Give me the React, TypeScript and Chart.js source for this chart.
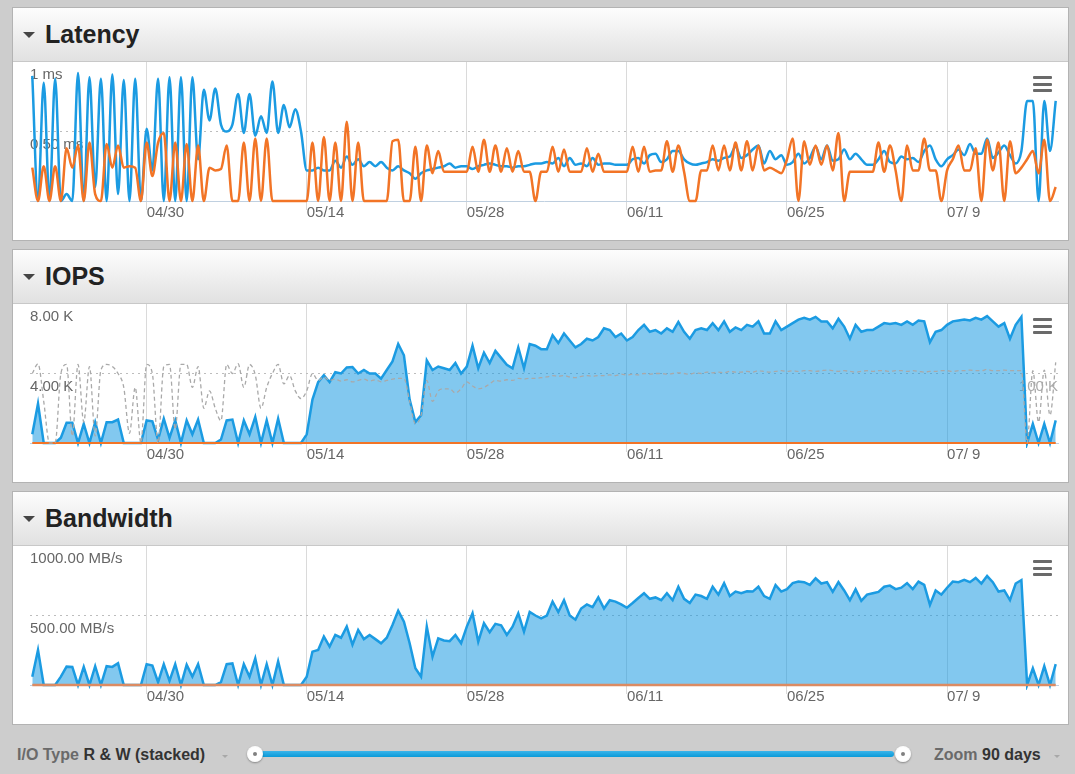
import React, { useEffect, useRef } from 'react';
import { Chart, registerables } from 'chart.js';

Chart.register(...registerables);

// x values are days relative to 04/30; one sample every 12 hours from 04/20
const START_DAY = -10;
const STEP_DAYS = 0.5;
const X_MIN = -10.2;
const X_MAX = 79.7;
const TICK_DAYS = [0, 14, 28, 42, 56, 70];
const TICK_LABELS = ['04/30', '05/14', '05/28', '06/11', '06/25', '07/ 9'];

// Latency (ms)
const LAT_READ_MS = [
  0.90, 0.00, 0.85, 0.00, 0.88, 0.00, 0.05, 0.00, 0.92, 0.00,
  0.89, 0.10, 0.88, 0.00, 0.91, 0.05, 0.87, 0.00, 0.88, 0.00,
  0.52, 0.22, 0.88, 0.00, 0.89, 0.00, 0.89, 0.00, 0.89, 0.30,
  0.80, 0.58, 0.81, 0.55, 0.50, 0.55, 0.77, 0.49, 0.77, 0.47,
  0.61, 0.49, 0.86, 0.49, 0.69, 0.53, 0.66, 0.50, 0.22, 0.22,
  0.24, 0.22, 0.22, 0.29, 0.24, 0.32, 0.26, 0.30, 0.25, 0.28,
  0.25, 0.28, 0.24, 0.22, 0.25, 0.22, 0.20, 0.16, 0.20, 0.22,
  0.23, 0.24, 0.25, 0.27, 0.24, 0.25, 0.25, 0.23, 0.25, 0.26,
  0.27, 0.26, 0.25, 0.25, 0.24, 0.25, 0.25, 0.26, 0.27, 0.27,
  0.28, 0.27, 0.31, 0.25, 0.31, 0.26, 0.27, 0.25, 0.31, 0.26,
  0.27, 0.27, 0.26, 0.26, 0.26, 0.30, 0.31, 0.27, 0.33, 0.34,
  0.28, 0.30, 0.36, 0.36, 0.30, 0.27, 0.26, 0.27, 0.28, 0.30,
  0.29, 0.31, 0.32, 0.39, 0.31, 0.33, 0.37, 0.40, 0.27, 0.36,
  0.30, 0.33, 0.26, 0.28, 0.34, 0.27, 0.31, 0.39, 0.30, 0.40,
  0.29, 0.30, 0.37, 0.30, 0.34, 0.30, 0.26, 0.26, 0.30, 0.36,
  0.28, 0.27, 0.32, 0.30, 0.31, 0.28, 0.36, 0.40, 0.30, 0.25,
  0.30, 0.33, 0.37, 0.33, 0.41, 0.34, 0.34, 0.45, 0.31, 0.35,
  0.40, 0.33, 0.27, 0.36, 0.72, 0.72, 0.00, 0.72, 0.36, 0.72,
];
const LAT_WRITE_MS = [
  0.24, 0.00, 0.25, 0.00, 0.25, 0.00, 0.38, 0.24, 0.40, 0.00,
  0.42, 0.05, 0.00, 0.41, 0.24, 0.40, 0.24, 0.25, 0.24, 0.00,
  0.42, 0.18, 0.42, 0.49, 0.00, 0.42, 0.00, 0.41, 0.00, 0.40,
  0.00, 0.24, 0.22, 0.23, 0.40, 0.00, 0.00, 0.42, 0.00, 0.45,
  0.00, 0.45, 0.00, 0.00, 0.00, 0.00, 0.00, 0.00, 0.00, 0.42,
  0.00, 0.46, 0.00, 0.42, 0.00, 0.57, 0.00, 0.42, 0.00, 0.00,
  0.00, 0.00, 0.00, 0.43, 0.44, 0.00, 0.00, 0.39, 0.00, 0.40,
  0.20, 0.36, 0.21, 0.21, 0.21, 0.21, 0.21, 0.39, 0.21, 0.44,
  0.21, 0.40, 0.21, 0.38, 0.21, 0.36, 0.21, 0.21, 0.00, 0.21,
  0.21, 0.39, 0.21, 0.37, 0.21, 0.21, 0.21, 0.38, 0.21, 0.34,
  0.21, 0.21, 0.21, 0.21, 0.21, 0.39, 0.21, 0.39, 0.21, 0.22,
  0.22, 0.43, 0.21, 0.40, 0.21, 0.00, 0.00, 0.22, 0.22, 0.40,
  0.22, 0.40, 0.22, 0.42, 0.22, 0.43, 0.22, 0.40, 0.22, 0.24,
  0.22, 0.20, 0.30, 0.45, 0.00, 0.43, 0.26, 0.40, 0.26, 0.40,
  0.22, 0.49, 0.00, 0.21, 0.21, 0.21, 0.21, 0.21, 0.42, 0.21,
  0.40, 0.22, 0.00, 0.40, 0.22, 0.22, 0.45, 0.22, 0.22, 0.00,
  0.22, 0.30, 0.40, 0.22, 0.22, 0.38, 0.00, 0.44, 0.22, 0.42,
  0.00, 0.43, 0.20, 0.24, 0.30, 0.36, 0.20, 0.44, 0.00, 0.10,
];

// IOPS (K)
const IOPS_READ_K = [
  0.5, 2.26, 0, 0, 0, 0.3, 1.16, 1.16, 0, 1.1,
  0, 1.2, 0, 1.2, 1.2, 1.35, 0, 0, 0, 0,
  1.3, 1.25, 0.2, 1.4, 0.3, 1.3, 0, 1.3, 0.5, 1.35,
  0, 0, 0, 0.2, 1.3, 1.35, 0, 1.3, 0.5, 1.5,
  0, 1.3, 0, 1.4, 0, 0, 0, 0, 0.5, 2.5,
  3.5, 3.9, 3.5, 4.07, 4.0, 4.35, 4.37, 4.0, 4.2, 4.0,
  4.0, 3.7, 4.2, 4.7, 5.7, 5.05, 2.5, 1.2, 1.6, 4.75,
  4.2, 4.4, 4.3, 4.2, 4.6, 4.0, 4.4, 5.6, 4.3, 5.2,
  4.6, 5.3, 4.9, 4.5, 4.3, 5.5, 4.3, 5.7, 5.6, 5.4,
  5.4, 6.2, 5.75, 6.3, 5.9, 5.5, 5.7, 6.0, 5.9, 6.1,
  6.6, 6.5, 6.1, 6.3, 5.9, 6.1, 6.5, 6.8, 6.4, 6.5,
  6.3, 6.6, 6.4, 6.97, 6.4, 6.0, 6.5, 6.6, 6.5, 6.9,
  6.5, 7.0, 6.4, 6.65, 6.5, 6.8, 6.7, 7.0, 6.3, 6.3,
  7.0, 6.5, 6.7, 6.9, 7.1, 7.2, 7.1, 7.26, 7.0, 7.0,
  6.6, 7.15, 6.7, 6.0, 6.8, 6.4, 6.5, 6.5, 6.7, 6.9,
  6.85, 6.9, 6.8, 7.0, 6.8, 7.05, 7.0, 5.8, 6.4, 6.5,
  6.8, 7.0, 7.05, 7.1, 7.05, 7.2, 7.1, 7.3, 7.0, 6.7,
  6.9, 6.0, 6.8, 7.26, 0, 1.1, 0, 1.1, 0, 1.3,
];
// secondary (right) axis, K
const IOPS_REF_K = [
  100, 114, 60, 0, 0, 100, 113, 10, 113, 30,
  110, 10, 105, 113, 110, 100, 80, 14, 80, 0,
  113, 100, 0, 110, 113, 20, 113, 113, 80, 110,
  50, 75, 50, 32, 113, 100, 114, 80, 113, 98,
  50, 80, 100, 113, 85, 97, 75, 64, 75, 100,
  90, 95, 90, 92, 89, 91, 88, 90, 92, 89,
  91, 88, 90, 92, 93, 93, 60, 28, 40, 90,
  60, 75, 78, 78, 72, 78, 88, 82, 78, 80,
  85, 90, 89, 91, 90, 93, 92, 93, 93, 94,
  95, 97, 96, 97, 95, 94, 96, 97, 96, 97,
  97, 98, 97, 99, 98, 99, 98, 100, 99, 100,
  100, 99, 100, 101, 100, 99, 101, 100, 102, 101,
  102, 101, 103, 102, 102, 103, 102, 104, 103, 102,
  103, 104, 103, 104, 103, 104, 104, 103, 104, 105,
  104, 103, 104, 103, 102, 103, 104, 103, 104, 104,
  103, 104, 104, 103, 104, 103, 102, 103, 103, 104,
  104, 103, 104, 104, 105, 104, 104, 106, 104, 104,
  105, 104, 104, 104, 0, 104, 30, 105, 40, 116,
];
const WRITE_DAYS = [-10, 79.5];
const IOPS_WRITE_K = [0, 0];

// Bandwidth (MB/s)
const BW_READ_MBS = [
  60, 252, 0, 0, 0, 60, 132, 130, 0, 130,
  0, 135, 0, 135, 130, 156, 0, 0, 0, 0,
  150, 140, 20, 150, 30, 150, 0, 145, 60, 150,
  0, 0, 0, 20, 150, 155, 0, 150, 60, 192,
  0, 150, 0, 170, 0, 0, 0, 0, 60, 240,
  252, 348, 276, 360, 340, 420, 290, 396, 330, 360,
  330, 300, 340, 432, 535, 456, 300, 120, 60, 420,
  204, 336, 320, 315, 360, 300, 420, 516, 312, 444,
  380, 440, 430, 360, 420, 516, 384, 525, 500, 480,
  500, 600, 525, 610, 500, 470, 550, 580, 560, 630,
  550, 610, 600, 580, 556, 590, 626, 660, 620, 630,
  610, 660, 610, 707, 620, 590, 650, 640, 620, 707,
  650, 733, 640, 672, 660, 674, 672, 707, 640, 620,
  719, 672, 690, 733, 745, 740, 720, 767, 730, 740,
  670, 740, 680, 610, 688, 605, 650, 660, 670, 707,
  715, 690, 700, 733, 690, 744, 720, 576, 680, 650,
  700, 744, 740, 757, 740, 770, 730, 784, 740, 672,
  680, 611, 730, 755, 0, 120, 0, 136, 0, 150,
];
const BW_WRITE_MBS = [0, 0];

const LAT_TICKS = [0, 0.5, 1];
const LAT_TICK_LABELS = ['', '0.50 ms', '1 ms'];
const IOPS_TICKS = [0, 4, 8];
const IOPS_TICK_LABELS = ['', '4.00 K', '8.00 K'];
const IOPS_REF_TICKS = [100];
const IOPS_REF_TICK_LABELS = ['100 K'];
const BW_TICKS = [0, 500, 1000];
const BW_TICK_LABELS = ['', '500.00 MB/s', '1000.00 MB/s'];

const FONT = "'Liberation Sans', Arial, Helvetica, sans-serif";
const BLUE = '#1b9be2';
const BLUE_FILL = 'rgba(27,155,226,0.55)';
const ORANGE = '#f27426';

const CANVAS_W = 1054;
const CANVAS_H = 178;

const series = (vals: number[]) => vals.map((v, i) => ({ x: START_DAY + i * STEP_DAYS, y: v }));
const seriesAt = (days: number[], vals: number[]) => vals.map((v, i) => ({ x: days[i], y: v }));

function baseScales(yMax: number, yTicks: number[], yLabels: string[]): any {
  return {
    x: {
      type: 'linear',
      min: X_MIN,
      max: X_MAX,
      afterBuildTicks: (s: any) => {
        s.ticks = TICK_DAYS.map((v) => ({ value: v }));
      },
      afterFit: (s: any) => {
        s.height = 39;
        s.paddingLeft = 0;
        s.paddingRight = 0;
      },
      grid: { color: '#dadada', lineWidth: 1, tickLength: 9, drawTicks: true },
      border: { display: true, color: '#c0d0e0', width: 1 },
      ticks: {
        align: 'start',
        padding: -6,
        color: '#666666',
        font: { size: 15, family: FONT },
        autoSkip: false,
        maxRotation: 0,
        callback: (_v: any, i: number) => TICK_LABELS[i],
      },
    },
    y: {
      position: 'left',
      min: 0,
      max: yMax,
      afterBuildTicks: (s: any) => {
        s.ticks = yTicks.map((v) => ({ value: v }));
      },
      afterFit: (s: any) => {
        s.width = 0;
        s.paddingTop = 0;
        s.paddingBottom = 0;
      },
      grid: {
        drawTicks: false,
        lineWidth: 1,
        color: (ctx: any) => (ctx.tick && ctx.tick.value === yTicks[1] ? '#bdbdbd' : 'rgba(0,0,0,0)'),
      },
      border: { display: false, dash: [2, 4] },
      ticks: {
        mirror: true,
        padding: 0,
        labelOffset: 13,
        color: '#666666',
        font: { size: 15, family: FONT },
        callback: (_v: any, i: number) => yLabels[i],
      },
    },
  };
}

function baseOptions(scales: any): any {
  return {
    animation: false,
    responsive: false,
    maintainAspectRatio: false,
    events: [],
    layout: { padding: { left: 16, right: 10, top: 0, bottom: 0 } },
    plugins: { legend: { display: false }, tooltip: { enabled: false } },
    elements: { point: { radius: 0 } },
    scales,
  };
}

function latencyConfig(): any {
  return {
    type: 'line',
    data: {
      datasets: [
        {
          label: 'Write',
          data: series(LAT_WRITE_MS),
          borderColor: ORANGE,
          borderWidth: 2.5,
          fill: false,
          cubicInterpolationMode: 'monotone',
          order: 0,
          clip: 5,
        },
        {
          label: 'Read',
          data: series(LAT_READ_MS),
          borderColor: BLUE,
          borderWidth: 2.5,
          fill: false,
          cubicInterpolationMode: 'monotone',
          order: 1,
          clip: 5,
        },
      ],
    },
    options: baseOptions(baseScales(1, LAT_TICKS, LAT_TICK_LABELS)),
  };
}

function iopsConfig(): any {
  const scales = baseScales(8, IOPS_TICKS, IOPS_TICK_LABELS);
  scales.y2 = {
    position: 'right',
    min: 0,
    max: 200,
    afterBuildTicks: (s: any) => {
      s.ticks = IOPS_REF_TICKS.map((v) => ({ value: v }));
    },
    afterFit: (s: any) => {
      s.width = 0;
      s.paddingTop = 0;
      s.paddingBottom = 0;
    },
    grid: { display: false, drawTicks: false },
    border: { display: false },
    ticks: {
      mirror: true,
      padding: 0,
      labelOffset: 13,
      color: '#ababab',
      font: { size: 15, family: FONT },
      callback: (_v: any, i: number) => IOPS_REF_TICK_LABELS[i],
    },
  };
  return {
    type: 'line',
    data: {
      datasets: [
        {
          label: 'Reference',
          data: series(IOPS_REF_K),
          yAxisID: 'y2',
          borderColor: '#a9a9a9',
          borderWidth: 1.3,
          borderDash: [4, 3],
          fill: false,
          cubicInterpolationMode: 'monotone',
          order: 0,
          clip: 5,
        },
        {
          label: 'Write',
          data: seriesAt(WRITE_DAYS, IOPS_WRITE_K),
          borderColor: ORANGE,
          borderWidth: 2,
          fill: false,
          order: 1,
          clip: 5,
        },
        {
          label: 'Read',
          data: series(IOPS_READ_K),
          borderColor: BLUE,
          backgroundColor: BLUE_FILL,
          borderWidth: 2.5,
          fill: 'origin',
          tension: 0,
          order: 2,
          clip: 5,
        },
      ],
    },
    options: baseOptions(scales),
  };
}

function bandwidthConfig(): any {
  return {
    type: 'line',
    data: {
      datasets: [
        {
          label: 'Write',
          data: seriesAt(WRITE_DAYS, BW_WRITE_MBS),
          borderColor: '#dc8b62',
          borderWidth: 2.5,
          fill: false,
          order: 0,
          clip: 5,
        },
        {
          label: 'Read',
          data: series(BW_READ_MBS),
          borderColor: BLUE,
          backgroundColor: BLUE_FILL,
          borderWidth: 2.5,
          fill: 'origin',
          tension: 0,
          order: 1,
          clip: 5,
        },
      ],
    },
    options: baseOptions(baseScales(1000, BW_TICKS, BW_TICK_LABELS)),
  };
}

function ChartCanvas({ top, makeConfig }: { top: number; makeConfig: () => any }) {
  const ref = useRef<HTMLCanvasElement | null>(null);
  useEffect(() => {
    if (!ref.current) return;
    const chart = new Chart(ref.current, makeConfig());
    return () => chart.destroy();
  }, []);
  return (
    <canvas
      ref={ref}
      width={CANVAS_W}
      height={CANVAS_H}
      style={{ position: 'absolute', left: 14, top, width: CANVAS_W, height: CANVAS_H, display: 'block' }}
    />
  );
}

function Hamburger({ top }: { top: number }) {
  const bar = (t: number) => (
    <div style={{ position: 'absolute', left: 0, top: t, width: 19, height: 3, background: '#6a6a6a', borderRadius: 1 }} />
  );
  return (
    <div style={{ position: 'absolute', left: 1033, top, width: 19, height: 17 }}>
      {bar(0)}
      {bar(6.5)}
      {bar(13)}
    </div>
  );
}

function Panel({ top, title, makeConfig }: { top: number; title: string; makeConfig: () => any }) {
  return (
    <>
      <div
        style={{
          position: 'absolute',
          left: 12,
          top,
          width: 1057,
          height: 234,
          background: '#ffffff',
          border: '1px solid #b3b3b3',
          boxSizing: 'border-box',
        }}
      />
      <div
        style={{
          position: 'absolute',
          left: 13,
          top: top + 1,
          width: 1055,
          height: 53,
          background: 'linear-gradient(#fdfdfd, #e1e1e1)',
          borderBottom: '1px solid #c8c8c8',
        }}
      />
      <div
        style={{
          position: 'absolute',
          left: 23,
          top: top + 25,
          width: 0,
          height: 0,
          borderLeft: '6px solid transparent',
          borderRight: '6px solid transparent',
          borderTop: '6px solid #454545',
        }}
      />
      <div
        style={{
          position: 'absolute',
          left: 45,
          top: top + 15,
          fontFamily: FONT,
          fontWeight: 'bold',
          fontSize: 25,
          lineHeight: '25px',
          color: '#222222',
          whiteSpace: 'nowrap',
        }}
      >
        {title}
      </div>
      <ChartCanvas top={top + 55} makeConfig={makeConfig} />
      <Hamburger top={top + 69} />
    </>
  );
}

function Caret({ left, top }: { left: number; top: number }) {
  return (
    <div
      style={{
        position: 'absolute',
        left,
        top,
        width: 0,
        height: 0,
        borderLeft: '3.5px solid transparent',
        borderRight: '3.5px solid transparent',
        borderTop: '3.5px solid #a8a8a8',
      }}
    />
  );
}

function Knob({ cx }: { cx: number }) {
  return (
    <div
      style={{
        position: 'absolute',
        left: cx - 8,
        top: 746,
        width: 16,
        height: 16,
        borderRadius: 8,
        background: 'radial-gradient(#ffffff 55%, #ececec)',
        boxShadow: '0 1px 2px rgba(0,0,0,0.35)',
      }}
    >
      <div style={{ position: 'absolute', left: 6, top: 6, width: 4, height: 4, borderRadius: 2, background: '#808080' }} />
    </div>
  );
}

export default function App() {
  useEffect(() => {
    Chart.defaults.font.family = FONT;
  }, []);
  const textStyle: any = {
    position: 'absolute',
    top: 745,
    height: 20,
    lineHeight: '20px',
    fontFamily: FONT,
    fontWeight: 'bold',
    fontSize: 16,
    whiteSpace: 'nowrap',
  };
  return (
    <div
      style={{
        position: 'absolute',
        left: 0,
        top: 0,
        width: 1075,
        height: 774,
        background: '#cdcdcd',
        overflow: 'hidden',
      }}
    >
      <Panel top={7} title="Latency" makeConfig={latencyConfig} />
      <Panel top={249} title="IOPS" makeConfig={iopsConfig} />
      <Panel top={491} title="Bandwidth" makeConfig={bandwidthConfig} />

      <div style={{ ...textStyle, left: 17 }}>
        <span style={{ color: '#6a6a6a' }}>I/O Type </span>
        <span style={{ color: '#333333' }}>R &amp; W (stacked)</span>
      </div>
      <Caret left={222} top={755} />

      <div
        style={{
          position: 'absolute',
          left: 252,
          top: 751,
          width: 642,
          height: 6,
          background: 'linear-gradient(#3ab4ea, #0a9ad8)',
          borderRadius: 3,
        }}
      />
      <Knob cx={255} />
      <Knob cx={903} />

      <div style={{ ...textStyle, left: 934 }}>
        <span style={{ color: '#6a6a6a' }}>Zoom </span>
        <span style={{ color: '#333333' }}>90 days</span>
      </div>
      <Caret left={1054} top={755} />
    </div>
  );
}
